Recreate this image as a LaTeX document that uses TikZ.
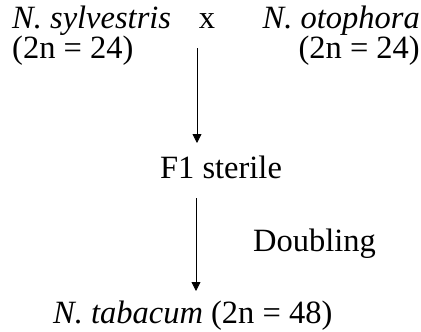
\documentclass[tikz,border=0pt]{standalone}
\usepackage{fontspec}
\setmainfont{Liberation Serif}
\usetikzlibrary{arrows.meta}
\begin{document}
\begin{tikzpicture}[x=1pt,y=1pt,
  lbl/.style={inner sep=0pt, font=\fontsize{32.5}{38}\selectfont},
  arr/.style={line width=0.8pt, -{Triangle[width=9pt,length=9pt]}}]
\useasboundingbox (0,0) rectangle (421,-332);
\node[lbl, anchor=base west] (syl) at (12,-28) {\textit{N. sylvestris}};
\node[lbl, anchor=base] (cross) at (207,-28) {x};
\node[lbl, anchor=base east] (oto) at (420,-28) {\textit{N. otophora}};
\node[lbl, anchor=base west] (sylc) at (12,-58) {(2n = 24)};
\node[lbl, anchor=base east] (otoc) at (420,-58) {(2n = 24)};
\node[lbl, anchor=base] (f1) at (221,-178) {F1 sterile};
\node[lbl, anchor=base west] (dbl) at (253,-251) {Doubling};
\node[lbl, anchor=base west] (tab) at (53,-323) {\textit{N. tabacum} (2n = 48)};
\coordinate (a1s) at (197,-48);
\coordinate (a1e) at (197,-143);
\coordinate (a2s) at (196,-198);
\coordinate (a2e) at (196,-291);
\draw[arr] (a1s) -- (a1e);
\draw[arr] (a2s) -- (a2e);
\end{tikzpicture}
\end{document}
